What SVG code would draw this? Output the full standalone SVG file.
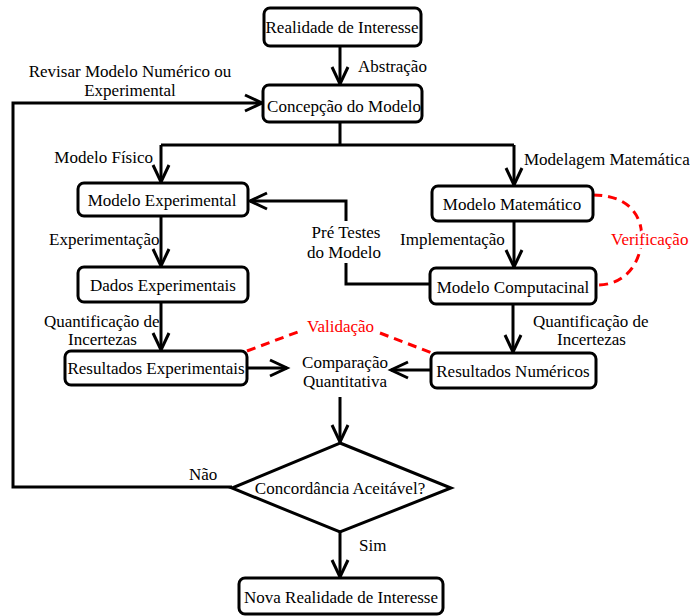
<svg xmlns="http://www.w3.org/2000/svg" width="690" height="616" viewBox="0 0 690 616">
<defs>
<style>
text{font-family:"Liberation Serif","Times New Roman",serif;font-size:17px;fill:#000}
.box{fill:#fff;stroke:#000;stroke-width:3}
.c{text-anchor:middle}
.e{text-anchor:end}
.ln{fill:none;stroke:#000;stroke-width:3}
.dash{fill:none;stroke:#f00;stroke-width:3;stroke-dasharray:9 6}
.red{fill:#f00}
.halo{paint-order:stroke;stroke:#fff;stroke-width:6px}
</style>
<marker id="arr" markerUnits="userSpaceOnUse" markerWidth="24" markerHeight="24" refX="18" refY="9" orient="auto" overflow="visible">
<path d="M1,1 L18,9 L1,17" fill="none" stroke="#000" stroke-width="3"/>
</marker>
</defs>

<g id="connectors">
<path class="ln" d="M340,46 V84" marker-end="url(#arr)"/>
<path class="ln" d="M340,122 V145 M161,145 H514"/>
<path class="ln" d="M161,145 V182" marker-end="url(#arr)"/>
<path class="ln" d="M514,145 V185" marker-end="url(#arr)"/>
<path class="ln" d="M161,216 V266" marker-end="url(#arr)"/>
<path class="ln" d="M161,302 V350" marker-end="url(#arr)"/>
<path class="ln" d="M514,221 V267" marker-end="url(#arr)"/>
<path class="ln" d="M513,304 V352" marker-end="url(#arr)"/>
<path class="ln" d="M430,284 H346 V263"/>
<path class="ln" d="M346,221 V201 H250" marker-end="url(#arr)"/>
<path class="ln" d="M247,368 H287" marker-end="url(#arr)"/>
<path class="ln" d="M431,370 H391" marker-end="url(#arr)"/>
<path class="ln" d="M340,397 V442" marker-end="url(#arr)"/>
<path class="ln" d="M340,532 V577" marker-end="url(#arr)"/>
<path class="ln" d="M232,487 H13 V103 H262" marker-end="url(#arr)"/>
<path class="dash" d="M593,195 C632,195 645,220 641,245 C637,272 618,285 598,285"/>
<path class="dash" d="M247,351 L303,330 M380,333 L432,353"/>
</g>

<g id="labels">
<text x="358" y="72">Abstração</text>
<text class="c" x="130" y="77">Revisar Modelo Numérico ou</text>
<text class="c" x="130" y="96">Experimental</text>
<text class="e" x="153" y="163">Modelo Físico</text>
<text x="524" y="165">Modelagem Matemática</text>
<text x="49" y="245">Experimentação</text>
<text x="400" y="245">Implementação</text>
<text class="c" x="346" y="238">Pré Testes</text>
<text class="c" x="344" y="258">do Modelo</text>
<text class="red halo" x="611" y="245">Verificação</text>
<text x="44" y="327">Quantificação de</text>
<text x="68" y="345">Incertezas</text>
<text x="533" y="327">Quantificação de</text>
<text x="557" y="345">Incertezas</text>
<text class="red" x="307" y="332">Validação</text>
<text x="189" y="480">Não</text>
<text x="359" y="551">Sim</text>
</g>

<g id="n1"><rect class="box" x="264" y="8" width="157" height="38" rx="6"/><text class="c" x="342" y="33">Realidade de Interesse</text></g>
<g id="n2"><rect class="box" x="263" y="85" width="159" height="37" rx="6"/><text class="c" x="344" y="112">Concepção do Modelo</text></g>
<g id="n3"><rect class="box" x="78" y="183" width="170" height="33" rx="6"/><text class="c" x="162" y="206">Modelo Experimental</text></g>
<g id="n4"><rect class="box" x="78" y="267" width="170" height="35" rx="6"/><text class="c" x="163" y="291">Dados Experimentais</text></g>
<g id="n5"><rect class="box" x="65" y="351" width="182" height="34" rx="6"/><text class="c" x="156" y="374">Resultados Experimentais</text></g>
<g id="n6"><rect class="box" x="432" y="186" width="161" height="35" rx="6"/><text class="c" x="512" y="210">Modelo Matemático</text></g>
<g id="n7"><rect class="box" x="430" y="268" width="166" height="36" rx="6"/><text class="c" x="513" y="293">Modelo Computacinal</text></g>
<g id="n8"><rect class="box" x="431" y="353" width="165" height="35" rx="6"/><text class="c" x="513" y="377">Resultados Numéricos</text></g>
<g id="n9"><text class="c" x="345" y="368">Comparação</text><text class="c" x="345" y="387">Quantitativa</text></g>
<g id="n10"><polygon points="340,443 451,488 340,532 232,488" fill="#fff" stroke="#000" stroke-width="3" stroke-linejoin="miter"/><text class="c" x="340" y="494">Concordância Aceitável?</text></g>
<g id="n11"><rect class="box" x="239" y="578" width="204" height="36" rx="6"/><text class="c" x="341" y="603">Nova Realidade de Interesse</text></g>
</svg>
